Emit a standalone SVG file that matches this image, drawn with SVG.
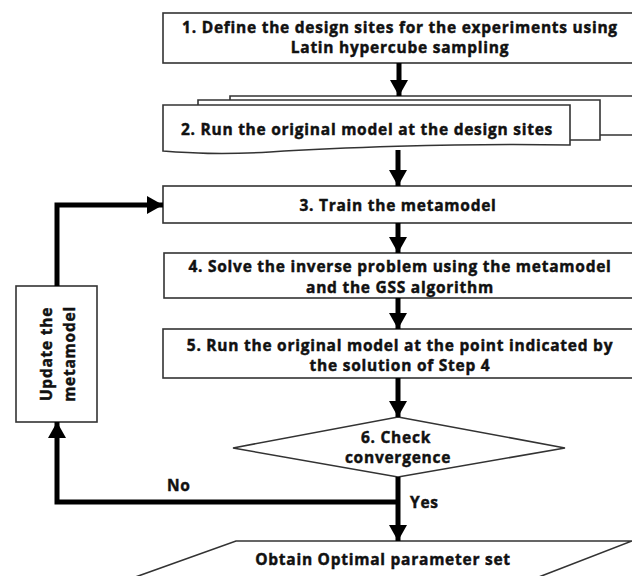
<svg xmlns="http://www.w3.org/2000/svg" width="632" height="576" viewBox="0 0 632 576">
<defs>
<style>
.box{fill:#fff;stroke:#333;stroke-width:1.6}
.t{font-family:"Open Sans","DejaVu Sans",sans-serif;font-weight:700;font-size:15.5px;letter-spacing:0.75px;fill:#111;stroke:#111;stroke-width:0.45;text-anchor:middle}
.lbl{font-family:"Open Sans","DejaVu Sans",sans-serif;font-weight:700;font-size:15.5px;letter-spacing:0.75px;fill:#111;stroke:#111;stroke-width:0.45}
.c{fill:none;stroke:#000;stroke-width:5}
</style>
<marker id="ah" markerUnits="userSpaceOnUse" markerWidth="18" markerHeight="18" refX="16" refY="9" orient="auto" viewBox="0 0 18 18">
<path d="M0,0 L16,9 L0,18 z" fill="#000"/>
</marker>
</defs>
<rect width="632" height="576" fill="#fff"/>

<g id="n1">
<rect class="box" x="163" y="13" width="480" height="50"/>
<text class="t" x="400" y="32.5">1. Define the design sites for the experiments using</text>
<text class="t" x="400" y="52.5">Latin hypercube sampling</text>
</g>

<g id="n2">
<path class="box" d="M230,100 L230,96 L640,96 L640,135 L600,135"/>
<path class="box" d="M198,105 L198,100 L600,100 L600,140 L570,140"/>
<path class="box" d="M163,105 L570,105 L570,145 C450,143 330,148 270,152 C220,155 190,153 163,151 Z"/>
<text class="t" x="367" y="135">2. Run the original model at the design sites</text>
</g>

<g id="n3">
<rect class="box" x="163" y="186" width="480" height="37"/>
<text class="t" x="398" y="211">3. Train the metamodel</text>
</g>

<g id="n4">
<rect class="box" x="164" y="253" width="480" height="45"/>
<text class="t" x="400" y="272">4. Solve the inverse problem using the metamodel</text>
<text class="t" x="400" y="293">and the GSS algorithm</text>
</g>

<g id="n5">
<rect class="box" x="163" y="329" width="480" height="49"/>
<text class="t" x="400" y="350.5">5. Run the original model at the point indicated by</text>
<text class="t" x="400" y="370.5">the solution of Step 4</text>
</g>

<g id="n6">
<polygon class="box" points="398,417 565,448 398,477 233,448"/>
<text class="t" x="396" y="443">6. Check</text>
<text class="t" x="398" y="463">convergence</text>
</g>

<g id="n7">
<polygon class="box" points="236,541 632,541 531,580 127,580"/>
<text class="t" x="383" y="565">Obtain Optimal parameter set</text>
</g>

<g id="n8">
<rect class="box" x="16" y="286" width="81" height="136"/>
<text class="t" transform="translate(52,354) rotate(-90)">Update the</text>
<text class="t" transform="translate(75,354) rotate(-90)">metamodel</text>
</g>

<g id="connectors">
<path class="c" d="M399,63 L399,96" marker-end="url(#ah)"/>
<path class="c" d="M398,150 L398,186" marker-end="url(#ah)"/>
<path class="c" d="M398,223 L398,253" marker-end="url(#ah)"/>
<path class="c" d="M398,298 L398,329" marker-end="url(#ah)"/>
<path class="c" d="M398,378 L398,417" marker-end="url(#ah)"/>
<path class="c" d="M398,477 L398,541" marker-end="url(#ah)"/>
<path class="c" d="M398,502 L57,502 L57,422" marker-end="url(#ah)"/>
<path class="c" d="M57,286 L57,205 L163,205" marker-end="url(#ah)"/>
<text class="lbl" x="167" y="491">No</text>
<text class="lbl" x="410" y="508">Yes</text>
</g>
</svg>
